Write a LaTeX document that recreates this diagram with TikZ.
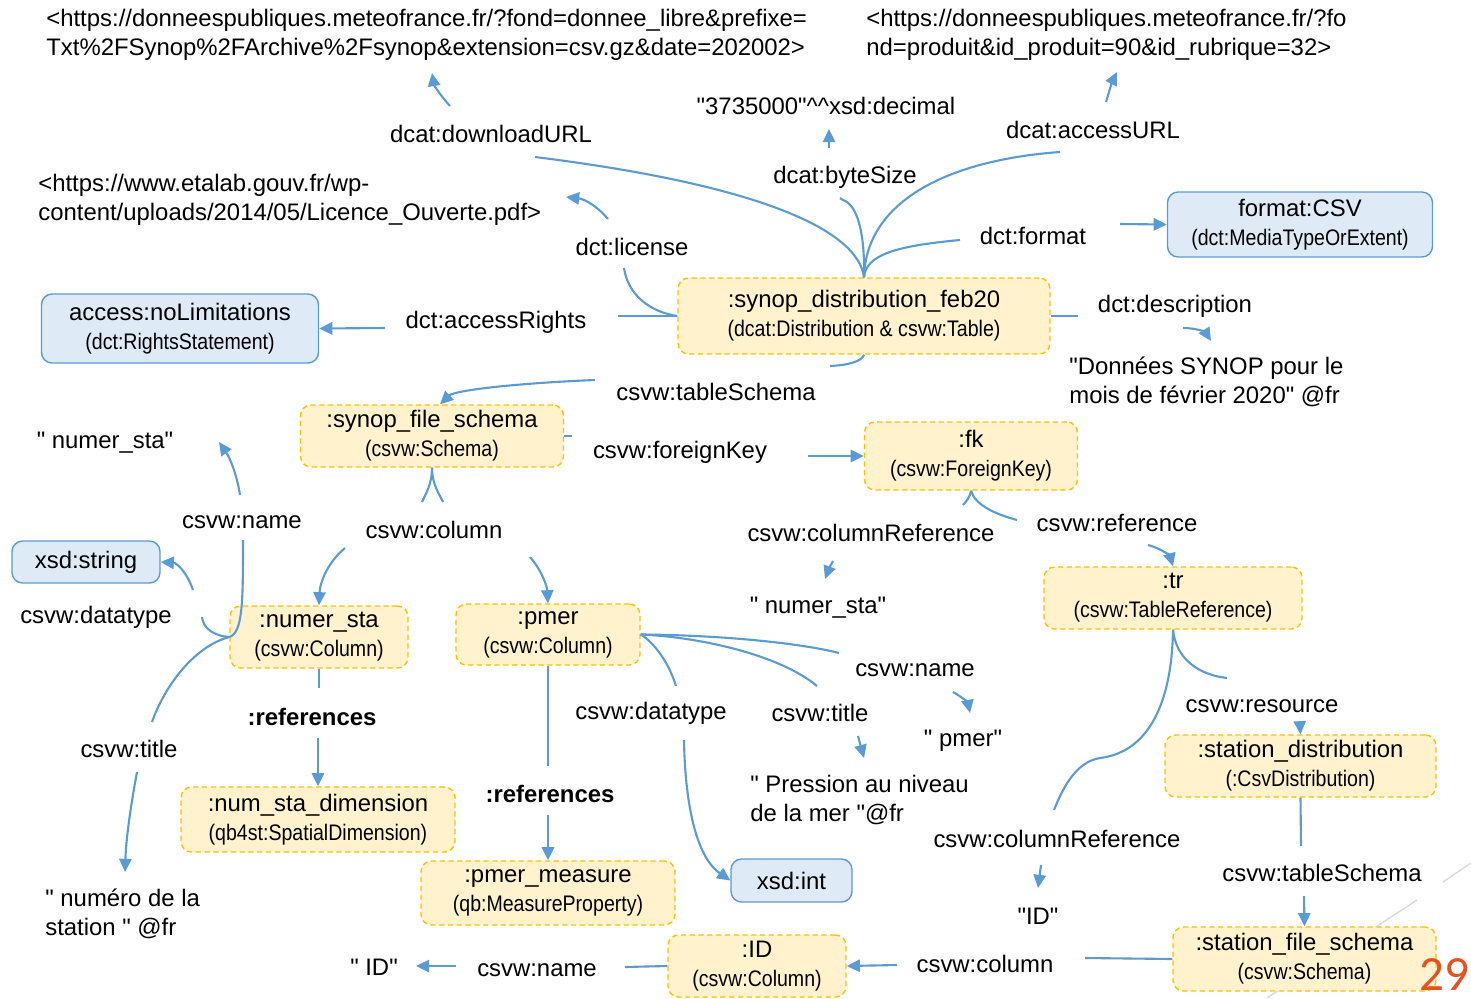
\documentclass[tikz,border=0pt]{standalone}
\usepackage[usenames,dvipsnames]{xcolor}
\usepackage{fontspec}
\setmainfont{Liberation Sans}[Ligatures=TeXOff]
\newfontfamily\resfont{Liberation Sans}[FakeStretch=0.87,Ligatures=TeXOff]
\newfontfamily\pagefont{Carlito}
\usepackage{tikz}
\usetikzlibrary{arrows.meta,calc}
\definecolor{linkblue}{HTML}{5B9BD5}
\definecolor{resfill}{HTML}{FFF2CC}
\definecolor{resdraw}{HTML}{FFC000}
\definecolor{litfill}{HTML}{DEEBF7}
\definecolor{pagenum}{HTML}{E8501E}
\definecolor{slidegray}{HTML}{D9D9D9}
\newcommand{\restype}[1]{{\resfont\fontsize{12.8}{16}\selectfont #1}}

\begin{document}
\begin{tikzpicture}[x=0.02cm,y=-0.02cm,font=\fontsize{13.6}{16.5}\selectfont]
  \tikzstyle{res}=[draw=resdraw, dash pattern=on 3pt off 2pt, fill=resfill, rounded corners=6pt, align=center, inner sep=0pt, line width=0.8pt]
  \tikzstyle{lit}=[draw=linkblue, fill=litfill, rounded corners=6pt, align=center, inner sep=0pt, line width=0.8pt]
  \tikzstyle{txt}=[align=left, anchor=west, inner sep=0pt]
  \tikzstyle{link}=[draw=linkblue, line width=1.2pt]
  \tikzstyle{linkarrow}=[link, -{Triangle[length=7.5pt,width=7pt]}]
  \useasboundingbox (0,0) rectangle (1471,998);
  \draw[slidegray, line width=0.8pt] (1443,882) -- (1471,863) (1417,900) -- (1267,998);

  \node[res, minimum width=7.44cm, minimum height=1.52cm] (dist) at (864,316) {:synop\_distribution\_feb20\\\restype{(dcat:Distribution \& csvw:Table)}};
  \node[lit, minimum width=5.3cm, minimum height=1.3cm] (format) at (1300,224.5) {format:CSV\\\restype{(dct:MediaTypeOrExtent)}};
  \node[lit, minimum width=5.54cm, minimum height=1.38cm] (access) at (180,328.5) {access:noLimitations\\\restype{(dct:RightsStatement)}};
  \node[res, minimum width=5.26cm, minimum height=1.24cm] (file_schema) at (432,436) {:synop\_file\_schema\\\restype{(csvw:Schema)}};
  \node[res, minimum width=4.26cm, minimum height=1.36cm] (fk) at (971,456) {:fk\\\restype{(csvw:ForeignKey)}};
  \node[lit, minimum width=2.96cm, minimum height=0.84cm] (xsd_string) at (86,562) {xsd:string};
  \node[res, minimum width=3.56cm, minimum height=1.24cm] (numer_sta) at (319,637) {:numer\_sta\\\restype{(csvw:Column)}};
  \node[res, minimum width=3.68cm, minimum height=1.22cm] (pmer) at (548,634.5) {:pmer\\\restype{(csvw:Column)}};
  \node[res, minimum width=5.16cm, minimum height=1.24cm] (tr) at (1173,598) {:tr\\\restype{(csvw:TableReference)}};
  \node[res, minimum width=5.48cm, minimum height=1.3cm] (num_dim) at (318,819.5) {:num\_sta\_dimension\\\restype{(qb4st:SpatialDimension)}};
  \node[res, minimum width=5.08cm, minimum height=1.28cm] (pmer_measure) at (548,893) {:pmer\_measure\\\restype{(qb:MeasureProperty)}};
  \node[lit, minimum width=2.42cm, minimum height=0.86cm] (xsd_int) at (791.5,880.5) {xsd:int};
  \node[res, minimum width=5.42cm, minimum height=1.24cm] (st_dist) at (1300.5,766) {:station\_distribution\\\restype{(:CsvDistribution)}};
  \node[res, minimum width=5.26cm, minimum height=1.28cm] (st_schema) at (1304.5,959) {:station\_file\_schema\\\restype{(csvw:Schema)}};
  \node[res, minimum width=3.56cm, minimum height=1.24cm] (id) at (757,966) {:ID\\\restype{(csvw:Column)}};

  \node[txt] (url1) at (46,35) {<https://donneespubliques.meteofrance.fr/?fond=donnee\_libre\&prefixe=\\Txt\%2FSynop\%2FArchive\%2Fsynop\&extension=csv.gz\&date=202002>};
  \node[txt] (url2) at (866,35) {<https://donneespubliques.meteofrance.fr/?fo\\nd=produit\&id\_produit=90\&id\_rubrique=32>};
  \node (decimal) at (826,106) {"3735000"\textasciicircum\textasciicircum xsd:decimal};
  \node[txt] (url3) at (38,200) {<https://www.etalab.gouv.fr/wp-\\content/uploads/2014/05/Licence\_Ouverte.pdf>};
  \node[txt] (descr_lit) at (1069,382) {"Données SYNOP pour le\\mois de février 2020" @fr};
  \node (numer_lit1) at (105,443) {" numer\_sta"};
  \node (numer_lit2) at (818,608) {" numer\_sta"};
  \node (pmer_lit) at (963,741) {" pmer"};
  \node[txt] (press_lit) at (750,800) {" Pression au niveau\\de la mer "@fr};
  \node[txt] (numero_lit) at (45,914) {" numéro de la\\station " @fr};
  \node (id_lit1) at (1038,916) {"ID"};
  \node (id_lit2) at (374,967) {" ID"};

  \node (l_download) at (491,134) {dcat:downloadURL};
  \node (l_bytesize) at (845,177) {dcat:byteSize};
  \node (l_accessurl) at (1093,130) {dcat:accessURL};
  \node (l_license) at (632,247) {dct:license};
  \node (l_format) at (1033,236) {dct:format};
  \node (l_rights) at (496,322) {dct:accessRights};
  \node (l_descr) at (1175,306) {dct:description};
  \node (l_tableschema) at (716,392) {csvw:tableSchema};
  \node (l_foreignkey) at (680,452) {csvw:foreignKey};
  \node (l_name1) at (242,522) {csvw:name};
  \node (l_column) at (434,530) {csvw:column};
  \node (l_colref1) at (871,533) {csvw:columnReference};
  \node (l_reference) at (1117,523) {csvw:reference};
  \node (l_datatype1) at (96,617) {csvw:datatype};
  \node[font=\fontsize{13.6}{16.5}\selectfont\bfseries] (l_refs1) at (312,717) {:references};
  \node (l_datatype2) at (651,713) {csvw:datatype};
  \node (l_title2) at (820,713) {csvw:title};
  \node (l_name2) at (915,670) {csvw:name};
  \node (l_resource) at (1262,706) {csvw:resource};
  \node (l_title1) at (129,749) {csvw:title};
  \node[font=\fontsize{13.6}{16.5}\selectfont\bfseries] (l_refs2) at (550,794) {:references};
  \node (l_colref2) at (1057,839) {csvw:columnReference};
  \node (l_tableschema2) at (1322,873) {csvw:tableSchema};
  \node (l_column2) at (985,964) {csvw:column};
  \node (l_name3) at (537,970) {csvw:name};
  \node[text=pagenum, inner sep=0pt, font=\pagefont\fontsize{28}{28}\selectfont] (page_num) at (1444,975) {29};

  \draw[link] (dist.north) .. controls (858,230) and (760,185) .. ($(l_download)+(44,23)$);
  \draw[linkarrow] ($(l_download)+(-41,-28)$) .. controls (440,95) and (434,85) .. ($(l_download)+(-59,-61)$);
  \draw[link] (dist.north) .. controls (865,235) and (858,205) .. ($(l_bytesize)+(-2,23)$) -- ($(l_bytesize)+(-5,21)$);
  \draw[linkarrow] ($(l_bytesize)+(-16,-29)$) -- ($(l_bytesize)+(-16,-48)$);
  \draw[link] (dist.north) .. controls (866,200) and (950,160) .. ($(l_accessurl)+(-33,22)$);
  \draw[linkarrow] ($(l_accessurl)+(13,-28)$) .. controls (1109,92) and (1112,82) .. ($(l_accessurl)+(24,-58)$);
  \draw[link] (dist.north) .. controls (866,255) and (895,246) .. ($(l_format)+(-73,4)$);
  \draw[linkarrow] ($(l_format)+(87,-12)$) -- (format.west);
  \draw[link] (dist.west) .. controls (650,312) and (628,295) .. ($(l_license)+(-8,21)$);
  \draw[linkarrow] ($(l_license)+(-24,-28)$) .. controls (598,207) and (585,199) .. ($(l_license)+(-66,-50)$);
  \draw[link] (dist.west) -- ($(l_rights)+(122,-6)$);
  \draw[linkarrow] ($(l_rights)+(-111,6)$) -- (access.east);
  \draw[link] (dist.east) -- ($(l_descr)+(-97,10)$);
  \draw[linkarrow] ($(l_descr)+(8,22)$) .. controls (1198,328) and (1206,333) .. ($(l_descr)+(36,35)$);
  \draw[link] (dist.south) .. controls (862,361) and (850,365) .. ($(l_tableschema)+(114,-26)$);
  \draw[linkarrow] ($(l_tableschema)+(-121,-12)$) .. controls (520,383) and (455,390) .. ($(file_schema.north)+(8,0)$);

  \draw[link] (file_schema.east) -- ($(l_foreignkey)+(-108,-16)$);
  \draw[linkarrow] ($(l_foreignkey)+(128,4)$) -- (fk.west);
  \draw[link] (file_schema.south) .. controls (432,485) and (425,495) .. ($(l_column)+(-12,-28)$);
  \draw[link] (file_schema.south) .. controls (432,485) and (440,495) .. ($(l_column)+(9,-28)$);
  \draw[linkarrow] ($(l_column)+(-89,18)$) .. controls (328,562) and (320,582) .. (numer_sta.north);
  \draw[linkarrow] ($(l_column)+(96,27)$) .. controls (540,568) and (547,585) .. (pmer.north);

  \draw[link] ($(l_name1)+(1,18)$) .. controls (243,600) and (243,633) .. (numer_sta.west);
  \draw[linkarrow] ($(l_name1)+(-2,-27)$) .. controls (237,475) and (230,458) .. ($(l_name1)+(-23,-80)$);
  \draw[link] ($(l_datatype1)+(106,0)$) .. controls (203,629) and (215,636) .. (numer_sta.west);
  \draw[linkarrow] ($(l_datatype1)+(97,-27)$) .. controls (188,575) and (178,563) .. (xsd_string.east);
  \draw[link] (numer_sta.west) .. controls (195,646) and (165,685) .. ($(l_title1)+(23,-27)$);
  \draw[linkarrow] ($(l_title1)+(8,23)$) .. controls (130,810) and (126,840) .. ($(l_title1)+(-4,123)$);
  \draw[link] (numer_sta.south) -- ($(l_refs1)+(7,-29)$);
  \draw[linkarrow] ($(l_refs1)+(6,21)$) -- (num_dim.north);

  \draw[link] (pmer.south) -- ($(l_refs2)+(-2,-28)$);
  \draw[linkarrow] ($(l_refs2)+(-2,21)$) -- (pmer_measure.north);
  \draw[link] (pmer.east) .. controls (652,641) and (668,660) .. ($(l_datatype2)+(25,-27)$);
  \draw[linkarrow] ($(l_datatype2)+(33,27)$) .. controls (685,800) and (695,856) .. (xsd_int.west);
  \draw[link] (pmer.east) .. controls (700,637) and (780,655) .. ($(l_title2)+(-3,-27)$);
  \draw[linkarrow] ($(l_title2)+(38,23)$) -- ($(l_title2)+(44,45)$);
  \draw[link] (pmer.east) .. controls (720,635) and (800,643) .. ($(l_name2)+(-76,-17)$);
  \draw[linkarrow] ($(l_name2)+(38,22)$) .. controls (962,697) and (968,703) .. ($(l_name2)+(55,43)$);

  \draw[link] (fk.south) .. controls (970,497) and (966,502) .. ($(l_colref1)+(92,-28)$);
  \draw[linkarrow] ($(l_colref1)+(-38,28)$) .. controls (830,566) and (828,571) .. ($(l_colref1)+(-46,46)$);
  \draw[link] (fk.south) .. controls (975,505) and (995,514) .. ($(l_reference)+(-100,-3)$);
  \draw[linkarrow] ($(l_reference)+(31,22)$) .. controls (1160,548) and (1170,556) .. (tr.north);

  \draw[link] (tr.south) .. controls (1176,660) and (1200,675) .. ($(l_resource)+(-35,-28)$);
  \draw[linkarrow] ($(l_resource)+(38,20)$) -- (st_dist.north);
  \draw[link] (tr.south) .. controls (1172,700) and (1150,752) .. (1100,758) .. controls (1075,762) and (1062,790) .. ($(l_colref2)+(-3,-29)$);
  \draw[linkarrow] ($(l_colref2)+(-16,26)$) -- ($(l_colref2)+(-19,49)$);
  \draw[link] (st_dist.south) -- ($(l_tableschema2)+(-21,-27)$);
  \draw[linkarrow] ($(l_tableschema2)+(-18,23)$) -- (st_schema.north);
  \draw[link] (st_schema.west) -- ($(l_column2)+(100,-6)$);
  \draw[linkarrow] ($(l_column2)+(-88,1)$) -- (id.east);
  \draw[link] (id.west) -- ($(l_name3)+(88,-3)$);
  \draw[linkarrow] ($(l_name3)+(-81,-4)$) -- ($(id_lit2)+(42,-1)$);
\end{tikzpicture}
\end{document}
